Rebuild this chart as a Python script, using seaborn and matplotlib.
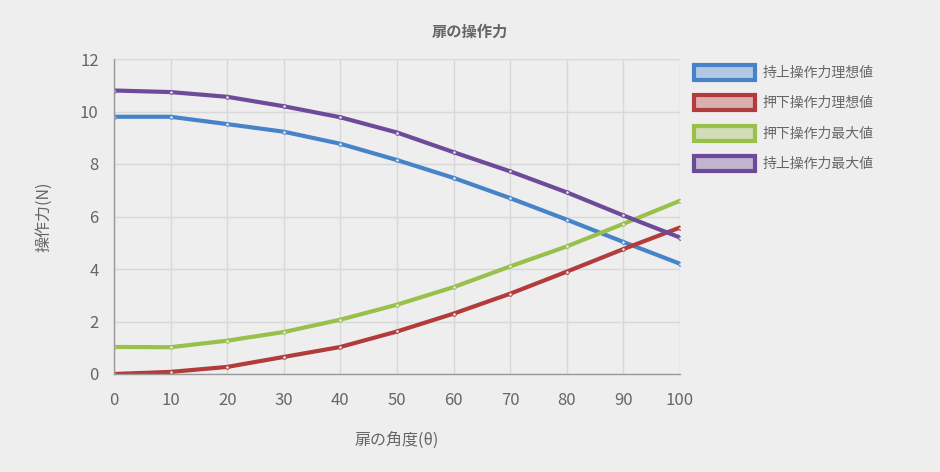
import matplotlib
matplotlib.use("Agg")
import matplotlib.pyplot as plt
import seaborn as sns
import pandas as pd
from matplotlib.patches import Patch

angles = [0, 10, 20, 30, 40, 50, 60, 70, 80, 90, 100]
lift_ideal = [9.8, 9.8, 9.52, 9.23, 8.77, 8.15, 7.47, 6.7, 5.88, 5.03, 4.2]
push_ideal = [0.0, 0.08, 0.27, 0.65, 1.03, 1.62, 2.3, 3.06, 3.9, 4.76, 5.58]
push_max = [1.03, 1.02, 1.27, 1.6, 2.07, 2.64, 3.31, 4.1, 4.86, 5.72, 6.6]
lift_max = [10.8, 10.74, 10.56, 10.2, 9.78, 9.2, 8.45, 7.72, 6.92, 6.04, 5.2]
series_names = ["持上操作力理想値", "押下操作力理想値", "押下操作力最大値", "持上操作力最大値"]
colors = ["#4683c9", "#b23b3b", "#98c04b", "#6e4b9a"]

title = "扉の操作力"
xlabel = "扉の角度(θ)"
ylabel = "操作力(N)"

df = pd.DataFrame({
    "angle": angles * 4,
    "value": lift_ideal + push_ideal + push_max + lift_max,
    "series": sum([[n] * len(angles) for n in series_names], []),
})

sns.set_theme(style="whitegrid")
plt.rcParams["font.family"] = ["Noto Sans CJK JP", "DejaVu Sans"]
bg = "#eeeeee"
fig = plt.figure(figsize=(9.4, 4.72), dpi=100, facecolor=bg)
ax = fig.add_axes([114 / 940, 1 - 374 / 472, (680 - 114) / 940, (374 - 59) / 472])
ax.set_facecolor(bg)

sns.lineplot(data=df, x="angle", y="value", hue="series", hue_order=series_names,
             palette=colors, linewidth=3, marker="o", markersize=2.6,
             markerfacecolor="#e8e8e8", markeredgewidth=0.7, ax=ax, legend=False)
for line, c in zip(ax.lines, colors):
    line.set_markeredgecolor(c)

ax.set_xlim(0, 100)
ax.set_ylim(0, 12)
ax.set_xticks(angles)
ax.set_yticks(range(0, 13, 2))
ax.grid(True, color="#d8d8d8", linewidth=1)
for s in ["top", "right"]:
    ax.spines[s].set_visible(False)
for s in ["left", "bottom"]:
    ax.spines[s].set_visible(True)
    ax.spines[s].set_color("#999999")
    ax.spines[s].set_linewidth(1)
ax.tick_params(axis="both", colors="#666666", labelsize=12, length=8, width=1,
               color="#d8d8d8", pad=3)
ax.tick_params(axis="x", length=9, pad=4)
ax.set_xlabel(xlabel, color="#666666", fontsize=11.5, labelpad=16)
ax.set_ylabel(ylabel, color="#666666", fontsize=11.5, labelpad=20)

fig.text(0.5, 1 - 32 / 472, title, ha="center", va="center", fontsize=11,
         fontweight="bold", color="#666666")

handles = [Patch(facecolor=c, edgecolor=c, linewidth=3) for c in colors]
for h, c in zip(handles, colors):
    h.set_facecolor(matplotlib.colors.to_rgba(c, 0.35))
leg = fig.legend(handles, series_names, loc="upper left",
                 bbox_to_anchor=(681 / 940, 1 - 52 / 472), frameon=False,
                 fontsize=10, labelcolor="#666666", handlelength=4.4,
                 handleheight=1.3, labelspacing=1.1, handletextpad=0.55)

fig.savefig("out.png", dpi=100, facecolor=bg)
